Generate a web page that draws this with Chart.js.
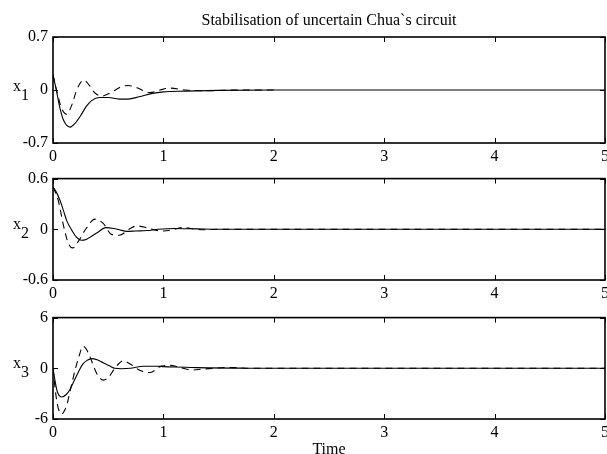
<!DOCTYPE html>
<html><head><meta charset="utf-8">
<script src="https://cdn.jsdelivr.net/npm/chart.js@4/dist/chart.umd.min.js"></script>
<style>
html,body{margin:0;padding:0;background:#fff;overflow:hidden;width:607px;height:454px;position:relative;}
.panel{position:absolute;left:0;width:620px;}
.lab{position:absolute;font-family:'Liberation Serif','Times New Roman',serif;font-size:16px;line-height:16px;color:#000;white-space:nowrap;}
</style></head><body>
<div class="panel" style="top:0;height:168px"><canvas id="c1" width="620" height="168"></canvas></div>
<div class="panel" style="top:164px;height:141px"><canvas id="c2" width="620" height="141"></canvas></div>
<div class="panel" style="top:303px;height:151px"><canvas id="c3" width="620" height="151"></canvas></div>
<span class="lab" style="left:13px;top:78px">x</span><span class="lab" style="left:21px;top:87px">1</span>
<span class="lab" style="left:13px;top:216px">x</span><span class="lab" style="left:21px;top:225px">2</span>
<span class="lab" style="left:13px;top:355px">x</span><span class="lab" style="left:21px;top:364px">3</span>
<script>
// ---- data (time in s) ----
const titleText = 'Stabilisation of uncertain Chua`s circuit';
const xTitle = 'Time';
const xTicks = [0, 1, 2, 3, 4, 5];
const yTicks1 = [-0.7, 0, 0.7];
const yTicks2 = [-0.6, 0, 0.6];
const yTicks3 = [-6, 0, 6];

const t1s = [0, 0.03, 0.06, 0.09, 0.12, 0.155, 0.2, 0.25, 0.3, 0.35, 0.42, 0.5, 0.6, 0.68, 0.78, 0.9, 1.0, 1.2, 1.5, 2, 3, 4, 5];
const x1s = [0.2, 0.0, -0.22, -0.38, -0.46, -0.49, -0.44, -0.34, -0.22, -0.14, -0.10, -0.10, -0.12, -0.12, -0.09, -0.045, -0.025, -0.015, -0.005, 0, 0, 0, 0];
const t1d = [0, 0.04, 0.08, 0.124, 0.17, 0.22, 0.28, 0.33, 0.38, 0.44, 0.52, 0.6, 0.68, 0.76, 0.88, 0.97, 1.06, 1.2, 1.4, 1.7, 2.0];
const x1d = [0.2, -0.05, -0.25, -0.32, -0.2, 0.02, 0.13, 0.06, -0.04, -0.08, -0.04, 0.03, 0.06, 0.03, -0.035, 0.0, 0.025, 0.0, -0.01, 0.0, 0.0];

const t2s = [0, 0.03, 0.064, 0.1, 0.125, 0.17, 0.21, 0.26, 0.3, 0.34, 0.4, 0.48, 0.55, 0.6, 0.67, 0.75, 0.85, 0.95, 1.1, 1.3, 1.6, 2, 3, 4, 5];
const x2s = [0.5, 0.44, 0.34, 0.2, 0.10, -0.01, -0.09, -0.13, -0.12, -0.09, -0.04, 0.02, 0.01, -0.005, -0.025, -0.02, -0.015, 0.0, 0.01, 0.005, 0, 0, 0, 0, 0];
const t2d = [0, 0.048, 0.094, 0.14, 0.178, 0.24, 0.3, 0.38, 0.455, 0.53, 0.6, 0.7, 0.76, 0.85, 0.94, 1.0, 1.1, 1.17, 1.25, 1.35, 1.5, 1.7, 2, 2.5, 3, 3.5, 4, 4.5, 5];
const x2d = [0.5, 0.34, 0.05, -0.17, -0.22, -0.12, 0.01, 0.12, 0.07, -0.06, -0.07, 0.01, 0.04, 0.02, -0.013, -0.02, 0.0, 0.02, 0.01, -0.005, 0, 0, 0, 0, 0, 0, 0, 0, 0];

const t3s = [0, 0.02, 0.04, 0.08, 0.12, 0.154, 0.18, 0.21, 0.27, 0.31, 0.35, 0.4, 0.455, 0.51, 0.56, 0.62, 0.7, 0.82, 0.94, 1.0, 1.1, 1.25, 1.4, 1.7, 2, 3, 4, 5];
const x3s = [0, -1.6, -2.8, -3.4, -3.1, -2.5, -1.8, -0.96, 0.5, 0.95, 1.15, 1.0, 0.65, 0.3, 0.0, -0.05, 0.0, 0.25, 0.25, 0.2, 0.15, 0.1, 0.05, 0.02, 0, 0, 0, 0];
const t3d = [0, 0.02, 0.04, 0.06, 0.08, 0.1, 0.124, 0.16, 0.2, 0.24, 0.27, 0.3, 0.335, 0.395, 0.455, 0.5, 0.56, 0.6, 0.636, 0.7, 0.79, 0.88, 0.97, 1.06, 1.15, 1.27, 1.35, 1.45, 1.6, 1.8, 2, 2.5, 3, 3.5, 4, 4.5, 5];
const x3d = [0, -2.5, -4.3, -5.2, -5.4, -5.1, -4.4, -2.4, -0.2, 1.6, 2.6, 2.3, 1.35, -0.58, -1.4, -1.1, 0.0, 0.6, 0.9, 0.5, -0.27, -0.5, 0.2, 0.35, 0.1, -0.2, -0.1, 0.0, 0.1, 0.0, 0, 0, 0, 0, 0, 0, 0];

const FONT = "'Liberation Serif', 'Times New Roman', serif";
const zip = (t, y) => t.map((v, i) => ({x: v, y: y[i]}));

const framePlugin = {
  id: 'frame',
  afterDatasetsDraw(chart) {
    const {ctx, chartArea: a, scales: {x, y}} = chart;
    ctx.save();
    ctx.strokeStyle = '#000';
    ctx.lineWidth = 1.6;
    ctx.strokeRect(a.left, a.top, a.right - a.left, a.bottom - a.top);
    ctx.lineWidth = 1;
    ctx.beginPath();
    const L = 5;
    x.ticks.forEach(tk => {
      const px = Math.round(x.getPixelForValue(tk.value)) + 0.5;
      ctx.moveTo(px, a.bottom); ctx.lineTo(px, a.bottom - L);
      ctx.moveTo(px, a.top); ctx.lineTo(px, a.top + L);
    });
    y.ticks.forEach(tk => {
      const py = Math.round(y.getPixelForValue(tk.value)) + 0.5;
      ctx.moveTo(a.left, py); ctx.lineTo(a.left + L, py);
      ctx.moveTo(a.right, py); ctx.lineTo(a.right - L, py);
    });
    ctx.stroke();
    ctx.restore();
  }
};

function makePanel(id, solid, dashed, yTicks, extra) {
  const ymin = yTicks[0], ymax = yTicks[yTicks.length - 1];
  const xHeight = extra.xHeight;
  return new Chart(document.getElementById(id), {
    type: 'line',
    data: {
      datasets: [
        {data: solid, borderColor: '#000', borderWidth: 1.1, pointRadius: 0, cubicInterpolationMode: 'monotone', fill: false},
        {data: dashed, borderColor: '#000', borderWidth: 1.1, borderDash: [7, 5], pointRadius: 0, cubicInterpolationMode: 'monotone', fill: false}
      ]
    },
    options: {
      responsive: false,
      animation: false,
      events: [],
      layout: {padding: {left: 0, right: 15, top: extra.padTop, bottom: 0}},
      plugins: {
        legend: {display: false},
        tooltip: {enabled: false},
        title: extra.title ? {
          display: true, text: extra.title, fullSize: false, color: '#000',
          font: {family: FONT, size: 16, weight: 'normal'},
          padding: {top: 11.4, bottom: 6.4}
        } : {display: false}
      },
      scales: {
        x: {
          type: 'linear', min: 0, max: 5,
          afterBuildTicks: s => { s.ticks = xTicks.map(v => ({value: v})); },
          afterFit: s => { s.height = xHeight; },
          grid: {display: false, drawTicks: false},
          border: {display: false},
          ticks: {color: '#000', font: {family: FONT, size: 16}, padding: 4, maxRotation: 0, autoSkip: false,
                  callback: v => String(v)},
          title: extra.xTitle ? {display: true, text: extra.xTitle, color: '#000',
                  font: {family: FONT, size: 16}, padding: {top: 0, bottom: -5}} : {display: false}
        },
        y: {
          type: 'linear', min: ymin, max: ymax,
          afterBuildTicks: s => { s.ticks = yTicks.map(v => ({value: v})); },
          afterFit: s => { s.width = 53; },
          grid: {display: false, drawTicks: false},
          border: {display: false},
          ticks: {color: '#000', font: {family: FONT, size: 16}, padding: 5, autoSkip: false,
                  callback: v => String(v)}
        }
      }
    },
    plugins: [framePlugin]
  });
}

makePanel('c1', zip(t1s, x1s), zip(t1d, x1d), yTicks1, {padTop: 0, xHeight: 25, title: titleText});
makePanel('c2', zip(t2s, x2s), zip(t2d, x2d), yTicks2, {padTop: 12, xHeight: 25});
makePanel('c3', zip(t3s, x3s), zip(t3d, x3d), yTicks3, {padTop: 12, xHeight: 35, xTitle: xTitle});
</script>
</body></html>
